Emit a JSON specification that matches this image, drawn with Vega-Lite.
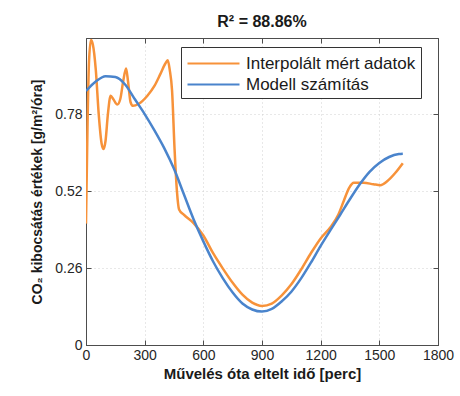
{
  "$schema": "https://vega.github.io/schema/vega-lite/v6.json",
  "width": 352,
  "height": 307,
  "autosize": {"type": "none"},
  "padding": {"left": 86, "top": 38, "right": 22, "bottom": 51},
  "background": "white",
  "title": {"text": "R² = 88.86%", "font": "Liberation Sans", "fontSize": 16, "fontWeight": "bold", "color": "#1a1a1a", "anchor": "middle", "offset": 8},
  "config": {
    "view": {"stroke": "#4d4d4d", "strokeWidth": 1},
    "font": "Liberation Sans"
  },
  "data": {"values": [
    {"s": "Interpolált mért adatok", "t": 0, "v": 0.41},
    {"s": "Interpolált mért adatok", "t": 8, "v": 0.75},
    {"s": "Interpolált mért adatok", "t": 15, "v": 0.95},
    {"s": "Interpolált mért adatok", "t": 25, "v": 1.03},
    {"s": "Interpolált mért adatok", "t": 35, "v": 1.015},
    {"s": "Interpolált mért adatok", "t": 50, "v": 0.93},
    {"s": "Interpolált mért adatok", "t": 65, "v": 0.78},
    {"s": "Interpolált mért adatok", "t": 80, "v": 0.68},
    {"s": "Interpolált mért adatok", "t": 90, "v": 0.662},
    {"s": "Interpolált mért adatok", "t": 100, "v": 0.69},
    {"s": "Interpolált mért adatok", "t": 112, "v": 0.78},
    {"s": "Interpolált mért adatok", "t": 126, "v": 0.842},
    {"s": "Interpolált mért adatok", "t": 140, "v": 0.83},
    {"s": "Interpolált mért adatok", "t": 160, "v": 0.812},
    {"s": "Interpolált mért adatok", "t": 175, "v": 0.83},
    {"s": "Interpolált mért adatok", "t": 190, "v": 0.89},
    {"s": "Interpolált mért adatok", "t": 205, "v": 0.934},
    {"s": "Interpolált mért adatok", "t": 215, "v": 0.89},
    {"s": "Interpolált mért adatok", "t": 228, "v": 0.82},
    {"s": "Interpolált mért adatok", "t": 240, "v": 0.808},
    {"s": "Interpolált mért adatok", "t": 270, "v": 0.815},
    {"s": "Interpolált mért adatok", "t": 314, "v": 0.842},
    {"s": "Interpolált mért adatok", "t": 350, "v": 0.875},
    {"s": "Interpolált mért adatok", "t": 380, "v": 0.915},
    {"s": "Interpolált mért adatok", "t": 405, "v": 0.95},
    {"s": "Interpolált mért adatok", "t": 418, "v": 0.962},
    {"s": "Interpolált mért adatok", "t": 428, "v": 0.93},
    {"s": "Interpolált mért adatok", "t": 440, "v": 0.86},
    {"s": "Interpolált mért adatok", "t": 453, "v": 0.66},
    {"s": "Interpolált mért adatok", "t": 465, "v": 0.52},
    {"s": "Interpolált mért adatok", "t": 476, "v": 0.458},
    {"s": "Interpolált mért adatok", "t": 500, "v": 0.44},
    {"s": "Interpolált mért adatok", "t": 550, "v": 0.412},
    {"s": "Interpolált mért adatok", "t": 600, "v": 0.37},
    {"s": "Interpolált mért adatok", "t": 650, "v": 0.31},
    {"s": "Interpolált mért adatok", "t": 700, "v": 0.258},
    {"s": "Interpolált mért adatok", "t": 750, "v": 0.21},
    {"s": "Interpolált mért adatok", "t": 800, "v": 0.17},
    {"s": "Interpolált mért adatok", "t": 850, "v": 0.143},
    {"s": "Interpolált mért adatok", "t": 900, "v": 0.132},
    {"s": "Interpolált mért adatok", "t": 950, "v": 0.14},
    {"s": "Interpolált mért adatok", "t": 1000, "v": 0.167},
    {"s": "Interpolált mért adatok", "t": 1050, "v": 0.205},
    {"s": "Interpolált mért adatok", "t": 1100, "v": 0.255},
    {"s": "Interpolált mért adatok", "t": 1150, "v": 0.31},
    {"s": "Interpolált mért adatok", "t": 1200, "v": 0.36},
    {"s": "Interpolált mért adatok", "t": 1250, "v": 0.398},
    {"s": "Interpolált mért adatok", "t": 1290, "v": 0.44},
    {"s": "Interpolált mért adatok", "t": 1320, "v": 0.49},
    {"s": "Interpolált mért adatok", "t": 1345, "v": 0.53},
    {"s": "Interpolált mért adatok", "t": 1370, "v": 0.548},
    {"s": "Interpolált mért adatok", "t": 1420, "v": 0.548},
    {"s": "Interpolált mért adatok", "t": 1470, "v": 0.543},
    {"s": "Interpolált mért adatok", "t": 1505, "v": 0.54},
    {"s": "Interpolált mért adatok", "t": 1540, "v": 0.553},
    {"s": "Interpolált mért adatok", "t": 1580, "v": 0.58},
    {"s": "Interpolált mért adatok", "t": 1620, "v": 0.614},
    {"s": "Modell számítás", "t": 0, "v": 0.858},
    {"s": "Modell számítás", "t": 50, "v": 0.89},
    {"s": "Modell számítás", "t": 100, "v": 0.908},
    {"s": "Modell számítás", "t": 150, "v": 0.905},
    {"s": "Modell számítás", "t": 200, "v": 0.88},
    {"s": "Modell számítás", "t": 250, "v": 0.83},
    {"s": "Modell számítás", "t": 300, "v": 0.78},
    {"s": "Modell számítás", "t": 350, "v": 0.725},
    {"s": "Modell számítás", "t": 400, "v": 0.665},
    {"s": "Modell számítás", "t": 450, "v": 0.595},
    {"s": "Modell számítás", "t": 500, "v": 0.51},
    {"s": "Modell számítás", "t": 550, "v": 0.425},
    {"s": "Modell számítás", "t": 600, "v": 0.35},
    {"s": "Modell számítás", "t": 650, "v": 0.282},
    {"s": "Modell számítás", "t": 700, "v": 0.225},
    {"s": "Modell számítás", "t": 750, "v": 0.177},
    {"s": "Modell számítás", "t": 800, "v": 0.14},
    {"s": "Modell számítás", "t": 850, "v": 0.12},
    {"s": "Modell számítás", "t": 900, "v": 0.113},
    {"s": "Modell számítás", "t": 950, "v": 0.122},
    {"s": "Modell számítás", "t": 1000, "v": 0.147},
    {"s": "Modell számítás", "t": 1050, "v": 0.18},
    {"s": "Modell számítás", "t": 1100, "v": 0.225},
    {"s": "Modell számítás", "t": 1150, "v": 0.278},
    {"s": "Modell számítás", "t": 1200, "v": 0.335},
    {"s": "Modell számítás", "t": 1250, "v": 0.388},
    {"s": "Modell számítás", "t": 1300, "v": 0.44},
    {"s": "Modell számítás", "t": 1350, "v": 0.493},
    {"s": "Modell számítás", "t": 1400, "v": 0.543},
    {"s": "Modell számítás", "t": 1450, "v": 0.585},
    {"s": "Modell számítás", "t": 1500, "v": 0.615},
    {"s": "Modell számítás", "t": 1550, "v": 0.635},
    {"s": "Modell számítás", "t": 1600, "v": 0.645},
    {"s": "Modell számítás", "t": 1620, "v": 0.646}
  ]},
  "layer": [
    {
      "mark": {"type": "line", "interpolate": "monotone", "strokeWidth": 2.5, "clip": true},
      "encoding": {
        "x": {"field": "t", "type": "quantitative",
          "scale": {"domain": [0, 1800], "nice": false},
          "axis": {"orient": "bottom", "values": [0, 300, 600, 900, 1200, 1500, 1800], "format": "d", "title": "Művelés óta eltelt idő [perc]",
            "titleFont": "Liberation Sans", "titleFontSize": 15, "titleFontWeight": "bold", "titleColor": "#1a1a1a", "titlePadding": 4,
            "labelFont": "Liberation Sans", "labelFontSize": 14, "labelColor": "#262626", "labelPadding": 8, "labelFlush": false,
            "tickSize": -5, "tickColor": "#4d4d4d", "domainColor": "#4d4d4d",
            "grid": true, "gridColor": "#d0d0d0", "gridDash": [1, 3], "gridWidth": 1}},
        "y": {"field": "v", "type": "quantitative",
          "scale": {"domain": [0, 1.037], "nice": false, "zero": true},
          "axis": {"orient": "left", "values": [0, 0.26, 0.52, 0.78], "labelExpr": "datum.value == 0 ? '0' : format(datum.value, '.2f')", "title": "CO₂ kibocsátás értékek [g/m²/óra]",
            "titleFont": "Liberation Sans", "titleFontSize": 14, "titleFontWeight": "bold", "titleColor": "#1a1a1a", "titlePadding": 10,
            "labelFont": "Liberation Sans", "labelFontSize": 14, "labelColor": "#262626", "labelPadding": 9,
            "tickSize": -5, "tickColor": "#4d4d4d", "domainColor": "#4d4d4d",
            "grid": true, "gridColor": "#d0d0d0", "gridDash": [1, 3], "gridWidth": 1}},
        "color": {"field": "s", "type": "nominal",
          "scale": {"domain": ["Interpolált mért adatok", "Modell számítás"], "range": ["#F7923A", "#4A84CC"]},
          "legend": {"title": null, "orient": "none", "legendX": 95, "legendY": 9,
            "symbolType": "M-1,0H4.2", "symbolSize": 400, "symbolStrokeWidth": 2.2,
            "labelFont": "Liberation Sans", "labelFontSize": 17, "labelColor": "#1a1a1a", "labelOffset": 37, "labelLimit": 400,
            "rowPadding": 1, "padding": 5, "strokeColor": "#333333", "fillColor": "white"}}
      }
    },
    {
      "mark": {"type": "line", "opacity": 0},
      "encoding": {
        "x": {"field": "t", "type": "quantitative",
          "axis": {"orient": "top", "values": [0, 300, 600, 900, 1200, 1500, 1800], "labels": false, "title": null, "grid": false,
            "tickSize": -5, "tickColor": "#4d4d4d", "domainColor": "#4d4d4d"}},
        "y": {"field": "v", "type": "quantitative",
          "axis": {"orient": "right", "values": [0, 0.26, 0.52, 0.78], "labels": false, "title": null, "grid": false,
            "tickSize": -5, "tickColor": "#4d4d4d", "domainColor": "#4d4d4d"}},
        "detail": {"field": "s"}
      }
    }
  ],
  "resolve": {"axis": {"x": "independent", "y": "independent"}}
}
